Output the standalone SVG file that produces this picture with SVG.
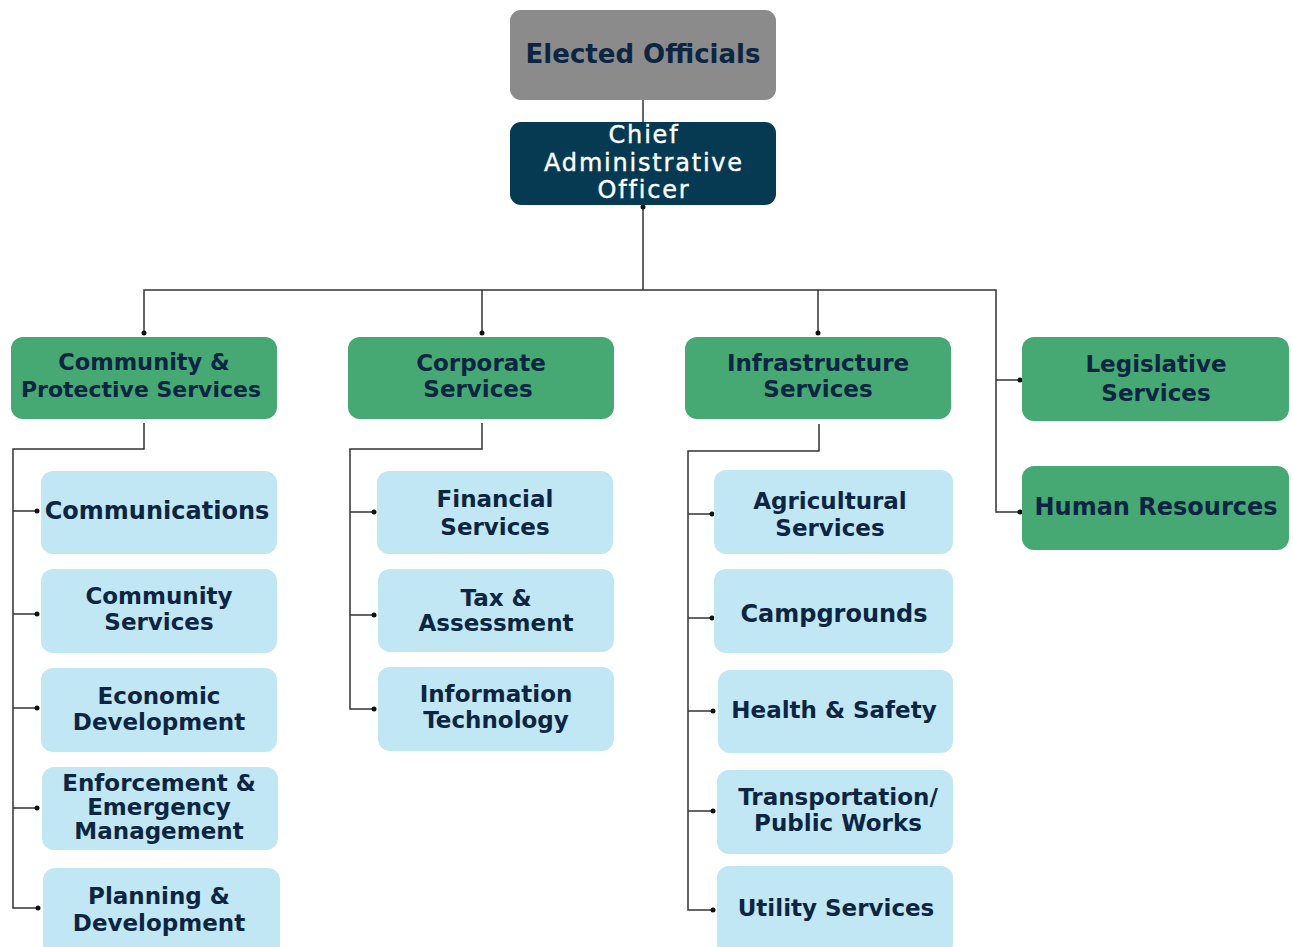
<svg xmlns="http://www.w3.org/2000/svg" width="1293" height="947" viewBox="0 0 1293 947">
<style>
.t{font-family:"DejaVu Sans","Liberation Sans",sans-serif;font-weight:bold;fill:#0c2542;text-anchor:middle;font-size:23px}
.w{font-family:"DejaVu Sans","Liberation Sans",sans-serif;fill:#ffffff;text-anchor:middle;font-size:24px;letter-spacing:1.8px;stroke:#ffffff;stroke-width:0.4}
.g{fill:#46a873}
.b{fill:#c1e7f4}
.ln{fill:none;stroke:#333;stroke-width:1.5}
.d{fill:#111}
</style>
<rect width="1293" height="947" fill="#ffffff"/>
<g id="connectors">
<path class="ln" d="M643 100V122"/>
<path class="ln" d="M643 207V290M144 334V290H996V512H1020M996 380H1020M482 290V334M818 290V334"/>
<path class="ln" d="M144 423V449H13V908H37M13 511H37M13 614H37M13 708H37M13 808H37"/>
<path class="ln" d="M482 423V449H350V709H374M350 512H374M350 615H374"/>
<path class="ln" d="M819 424V451H688V910H712M688 514H712M688 618H712M688 711H712M688 811H712"/>
<g class="d">
<circle cx="643" cy="207" r="2.5"/>
<circle cx="144" cy="333" r="2.5"/><circle cx="482" cy="333" r="2.5"/><circle cx="818" cy="333" r="2.5"/>
<circle cx="1020" cy="380" r="2.5"/><circle cx="1020" cy="512" r="2.5"/>
<circle cx="37" cy="511" r="2.5"/><circle cx="37" cy="614" r="2.5"/><circle cx="37" cy="708" r="2.5"/><circle cx="37" cy="808" r="2.5"/><circle cx="38" cy="908" r="2.5"/>
<circle cx="374" cy="512" r="2.5"/><circle cx="374" cy="615" r="2.5"/><circle cx="374" cy="709" r="2.5"/>
<circle cx="712" cy="514" r="2.5"/><circle cx="712" cy="618" r="2.5"/><circle cx="713" cy="711" r="2.5"/><circle cx="713" cy="811" r="2.5"/><circle cx="713" cy="910" r="2.5"/>
</g>
</g>
<g id="elected"><rect x="510" y="10" width="266" height="90" rx="11" fill="#8b8b8b"/><text class="t" x="643" y="63" style="font-size:26px">Elected Officials</text></g>
<g id="cao"><rect x="510" y="122" width="266" height="83" rx="11" fill="#053a52"/><text class="w" x="644" y="143">Chief</text><text class="w" x="644" y="171">Administrative</text><text class="w" x="644" y="198">Officer</text></g>
<g id="community-protective"><rect class="g" x="11" y="337" width="266" height="82" rx="12"/><text class="t" x="144" y="370" style="font-size:22.5px">Community &amp;</text><text class="t" x="141" y="397" style="font-size:22px">Protective Services</text></g>
<g id="corporate"><rect class="g" x="348" y="337" width="266" height="82" rx="12"/><text class="t" x="481" y="371">Corporate</text><text class="t" x="478" y="397">Services</text></g>
<g id="infrastructure"><rect class="g" x="685" y="337" width="266" height="82" rx="12"/><text class="t" x="818" y="371">Infrastructure</text><text class="t" x="818" y="397">Services</text></g>
<g id="legislative"><rect class="g" x="1022" y="337" width="267" height="84" rx="12"/><text class="t" x="1156" y="372">Legislative</text><text class="t" x="1156" y="401">Services</text></g>
<g id="hr"><rect class="g" x="1022" y="466" width="267" height="84" rx="12"/><text class="t" x="1156" y="515" style="font-size:24px">Human Resources</text></g>
<g id="communications"><rect class="b" x="41" y="471" width="236" height="83" rx="12"/><text class="t" x="157" y="519" style="font-size:24px">Communications</text></g>
<g id="community-services"><rect class="b" x="41" y="569" width="236" height="84" rx="12"/><text class="t" x="159" y="604">Community</text><text class="t" x="159" y="630">Services</text></g>
<g id="economic"><rect class="b" x="41" y="668" width="236" height="84" rx="12"/><text class="t" x="159" y="704">Economic</text><text class="t" x="159" y="730">Development</text></g>
<g id="enforcement"><rect class="b" x="42" y="767" width="236" height="83" rx="12"/><text class="t" x="159" y="791">Enforcement &amp;</text><text class="t" x="159" y="815">Emergency</text><text class="t" x="159" y="839">Management</text></g>
<g id="planning"><rect class="b" x="43" y="868" width="237" height="90" rx="12"/><text class="t" x="159" y="904">Planning &amp;</text><text class="t" x="159" y="931">Development</text></g>
<g id="financial"><rect class="b" x="377" y="471" width="236" height="83" rx="12"/><text class="t" x="495" y="507">Financial</text><text class="t" x="495" y="535">Services</text></g>
<g id="tax"><rect class="b" x="378" y="569" width="236" height="83" rx="12"/><text class="t" x="496" y="606">Tax &amp;</text><text class="t" x="496" y="631">Assessment</text></g>
<g id="it"><rect class="b" x="378" y="667" width="236" height="84" rx="12"/><text class="t" x="496" y="702">Information</text><text class="t" x="496" y="728">Technology</text></g>
<g id="agricultural"><rect class="b" x="714" y="470" width="239" height="84" rx="12"/><text class="t" x="830" y="509">Agricultural</text><text class="t" x="830" y="536">Services</text></g>
<g id="campgrounds"><rect class="b" x="714" y="569" width="239" height="84" rx="12"/><text class="t" x="834" y="622" style="font-size:24px">Campgrounds</text></g>
<g id="health"><rect class="b" x="718" y="670" width="235" height="83" rx="12"/><text class="t" x="834" y="718">Health &amp; Safety</text></g>
<g id="transportation"><rect class="b" x="717" y="770" width="236" height="84" rx="12"/><text class="t" x="838" y="805">Transportation/</text><text class="t" x="838" y="831">Public Works</text></g>
<g id="utility"><rect class="b" x="717" y="866" width="236" height="90" rx="12"/><text class="t" x="836" y="916">Utility Services</text></g>
</svg>
